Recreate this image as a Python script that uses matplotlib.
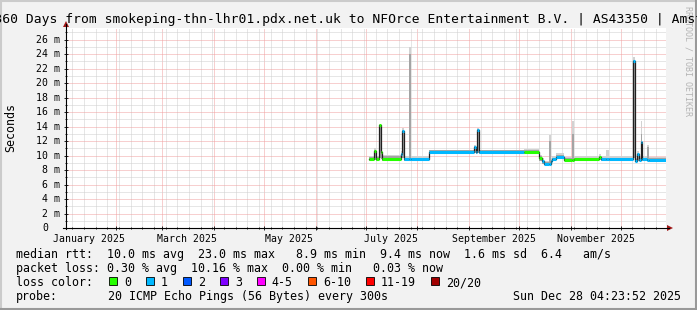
import matplotlib
matplotlib.use("Agg")
import matplotlib.pyplot as plt
import matplotlib.dates as mdates
from matplotlib.lines import Line2D
from matplotlib.patches import Polygon, Rectangle
from matplotlib.ticker import MultipleLocator
from datetime import datetime, timedelta

W, H = 697, 310
MONO = "DejaVu Sans Mono"

# --- data ---
t_start = "2025-01-02 04:23:52"
t_end = "2025-12-28 04:23:52"

seg_start = ["2025-07-03 00:00", "2025-07-06 00:00", "2025-07-07 00:00", "2025-07-09 00:00",
             "2025-07-10 00:00", "2025-07-11 00:00", "2025-07-22 00:00", "2025-07-23 00:00",
             "2025-07-24 00:00", "2025-07-27 00:00", "2025-07-28 00:00", "2025-08-08 00:00",
             "2025-09-04 00:00", "2025-09-05 00:00", "2025-09-06 00:00", "2025-09-07 00:00",
             "2025-10-04 00:00", "2025-10-13 00:00", "2025-10-15 00:00", "2025-10-16 00:00",
             "2025-10-19 00:00", "2025-10-20 00:00", "2025-10-21 00:00", "2025-10-23 00:00",
             "2025-10-28 00:00", "2025-11-02 00:00", "2025-11-03 00:00", "2025-11-18 00:00",
             "2025-11-19 00:00", "2025-11-22 00:00", "2025-11-24 00:00", "2025-12-08 12:00",
             "2025-12-09 18:00", "2025-12-11 00:00", "2025-12-12 00:00", "2025-12-13 00:00",
             "2025-12-14 00:00", "2025-12-17 00:00", "2025-12-18 00:00"]
data_end = "2025-12-28 04:00"

median_ms = [9.5, 10.6, 9.5, 14.2, 10.5, 9.5, 10.2, 13.4, 9.5, 9.5, 9.5, 10.45,
             11.2, 10.5, 13.5, 10.45, 10.45, 9.6, 9.2, 8.9, 8.9, 9.2, 9.5, 9.85,
             9.4, 9.4, 9.5, 9.8, 9.5, 9.5, 9.5, 23.0, 9.3, 10.2, 9.4, 11.8,
             9.5, 9.4, 9.4]
loss_idx = [0, 0, 0, 0, 0, 0, 1, 1, 1, 1, 1, 1,
            1, 1, 1, 1, 0, 0, 1, 1, 1, 1, 1, 1,
            0, 0, 0, 0, 1, 1, 1, 1, 1, 1, 1, 1,
            1, 1, 1]
smoke_lo = [9.3, 9.4, 9.3, 9.6, 9.5, 9.3, 9.4, 9.6, 9.2, 9.2, 9.2, 10.2,
            10.3, 10.2, 10.4, 10.2, 10.2, 9.3, 8.9, 8.7, 8.7, 8.9, 9.2, 9.5,
            9.2, 9.2, 9.3, 9.4, 9.3, 9.3, 9.3, 9.6, 9.1, 9.3, 9.2, 9.4,
            9.2, 9.2, 9.1]
smoke_mid = [9.8, 10.8, 9.8, 14.2, 10.6, 9.9, 10.4, 13.5, 9.7, 24.0, 9.7, 10.7,
             11.3, 10.8, 13.6, 10.7, 10.7, 9.9, 9.4, 9.1, 12.0, 9.4, 9.7, 10.1,
             9.6, 13.0, 9.7, 10.0, 9.7, 9.7, 9.7, 23.2, 9.5, 10.4, 9.6, 13.0,
             9.7, 11.2, 9.6]
smoke_hi = [10.0, 11.0, 10.0, 14.4, 10.8, 10.1, 10.6, 13.8, 9.9, 25.0, 9.9, 10.8,
            11.5, 11.0, 13.8, 10.8, 10.9, 10.1, 9.6, 9.3, 12.8, 9.6, 9.9, 10.3,
            9.8, 14.7, 9.9, 10.2, 9.9, 10.8, 9.9, 23.6, 9.7, 10.6, 9.8, 14.8,
            9.9, 11.4, 9.8]

loss_labels = ["0", "1", "2", "3", "4-5", "6-10", "11-19", "20/20"]
loss_colors = ["#26ff00", "#00b8ff", "#0059ff", "#7e00ff", "#ff00ff", "#ff5500", "#ff0000", "#a10000"]

label_months = ["2025-01-01", "2025-03-01", "2025-05-01", "2025-07-01", "2025-09-01", "2025-11-01"]

title = ("Last 360 Days from smokeping-thn-lhr01.pdx.net.uk to NFOrce Entertainment B.V. "
         "| AS43350 | Amsterdam")
legend_lines = ["median rtt:  10.0 ms avg  23.0 ms max   8.9 ms min  9.4 ms now  1.6 ms sd  6.4   am/s",
                "packet loss: 0.30 % avg  10.16 % max  0.00 % min   0.03 % now"]
probe_text = "20 ICMP Echo Pings (56 Bytes) every 300s"
stamp_text = "Sun Dec 28 04:23:52 2025"
y_max = 23.0 * 1.2


def px(x):
    return x / W


def py(y):
    return 1 - y / H


fig = plt.figure(figsize=(W / 100, H / 100), dpi=100)
fig.patch.set_facecolor("#f2f2f2")
ax = fig.add_axes([px(66), py(228), 600 / W, 200 / H])
ax.set_facecolor("white")

ts = [datetime.fromisoformat(s) for s in seg_start] + [datetime.fromisoformat(data_end)]


def ext(v):
    return list(v) + [v[-1]]


# smoke
ax.fill_between(ts, ext(smoke_lo), ext(smoke_hi), step="post", color="#d2d2d2", lw=0, zorder=2)
ax.fill_between(ts, ext(smoke_lo), ext(smoke_mid), step="post", color="#a4a4a4", lw=0, zorder=3)
# median line + loss coloured band
ax.plot(ts, ext(median_ms), drawstyle="steps-post", color="#202020", lw=0.9, zorder=4)
ax.hlines(median_ms, ts[:-1], ts[1:], colors=[loss_colors[i] for i in loss_idx], lw=2.2, zorder=5)

ax.set_xlim(datetime.fromisoformat(t_start), datetime.fromisoformat(t_end))
ax.set_ylim(0, y_max)

# grid like rrdtool
ax.xaxis.set_major_locator(mdates.MonthLocator())
ax.xaxis.set_minor_locator(mdates.WeekdayLocator(byweekday=mdates.MO))
ax.yaxis.set_major_locator(MultipleLocator(2))
ax.yaxis.set_minor_locator(MultipleLocator(1))
ax.grid(which="minor", color="#cfcfcf", lw=0.72, ls=(0, (1, 1)), zorder=1)
ax.grid(which="major", color="#f0a0a0", lw=0.72, ls=(0, (1, 1)), zorder=1)
ax.tick_params(which="major", direction="inout", length=3, width=0.6, color="black",
               labelbottom=False, labelleft=False)
ax.tick_params(which="minor", direction="inout", length=1.5, width=0.6, color="black")
for s in ax.spines.values():
    s.set_visible(False)

# y tick labels
for v in range(0, 27, 2):
    lab = f"{v} m" if v else "0"
    off = -6 if v else -6 - 2 * 5.96
    ax.text(off / 600, v, lab, transform=ax.get_yaxis_transform(), ha="right", va="center",
            fontsize=7.1, family=MONO, color="black")

# x labels (centered half a month after the month start)
for m in label_months:
    d = datetime.fromisoformat(m)
    ax.text(d + timedelta(days=15), -13.6 / 200, d.strftime("%B %Y"), transform=ax.get_xaxis_transform(),
            ha="center", va="baseline", fontsize=7.1, family=MONO, color="black")

# axes with arrows
fig.add_artist(Line2D([px(66), px(66)], [py(229), py(24)], color="black", lw=0.8))
fig.add_artist(Line2D([px(63), px(669)], [py(228), py(228)], color="black", lw=0.8))
fig.add_artist(Polygon([[px(63), py(27)], [px(69), py(27)], [px(66), py(21)]], closed=True,
                       color="#a01818", lw=0))
fig.add_artist(Polygon([[px(667), py(225)], [px(667), py(231)], [px(673), py(228)]], closed=True,
                       color="#a01818", lw=0))

# texts
fig.text(px(688), py(6), "RRDTOOL / TOBI OETIKER", rotation=-90, ha="center", va="top",
         fontsize=6, family=MONO, color="#b4b4b4")
fig.text(0.5, py(23), title, ha="center", va="baseline", fontsize=9.4, family=MONO, color="black")
fig.text(px(11), py(128), "Seconds", rotation=90, ha="center", va="center", fontsize=8.35,
         family=MONO, color="black")

for i, line in enumerate(legend_lines):
    fig.text(px(16), py(258 + 14 * i), line, ha="left", va="baseline", fontsize=8.35, family=MONO)
fig.text(px(16), py(286), "loss color:", ha="left", va="baseline", fontsize=8.35, family=MONO)
xpos = 109
for lab, col in zip(loss_labels, loss_colors):
    fig.add_artist(Rectangle((px(xpos), py(285)), 8 / W, 8 / H, facecolor=col,
                             edgecolor="black", lw=0.6))
    fig.text(px(xpos + 15), py(286), lab, ha="left", va="baseline", fontsize=8.35, family=MONO)
    xpos += 30 + 6.98 * len(lab)
fig.text(px(16), py(300), "probe:", ha="left", va="baseline", fontsize=8.35, family=MONO)
fig.text(px(108), py(300), probe_text, ha="left", va="baseline", fontsize=8.35, family=MONO)
fig.text(px(681), py(300), stamp_text, ha="right", va="baseline", fontsize=8.35, family=MONO)

# 3d frame
fig.add_artist(Line2D([0, 1], [py(0.5), py(0.5)], color="#cbcbcb", lw=1.5))
fig.add_artist(Line2D([px(0.5), px(0.5)], [0, 1], color="#cbcbcb", lw=1.5))
fig.add_artist(Line2D([0, 1], [py(309), py(309)], color="#999999", lw=1.5))
fig.add_artist(Line2D([px(696), px(696)], [0, 1], color="#999999", lw=1.5))

fig.savefig("out.png", dpi=100, facecolor=fig.get_facecolor())
